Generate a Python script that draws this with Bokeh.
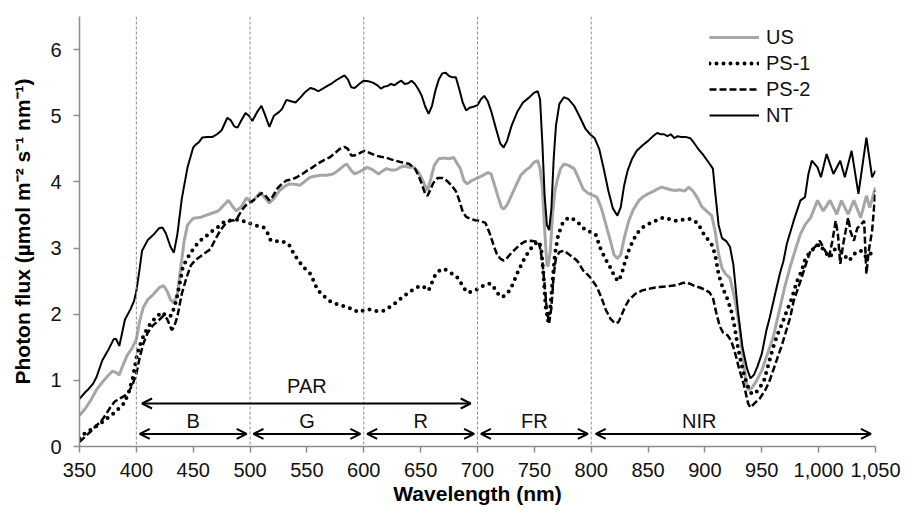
from bokeh.plotting import figure
from bokeh.models import Span, Arrow, OpenHead, Legend, LegendItem, NumeralTickFormatter, FixedTicker, ColumnDataSource
from bokeh.core.properties import value
from bokeh.embed import file_html
from bokeh.resources import INLINE

# ---------------- data ----------------
nt_nm = [350, 355, 358, 362, 365, 370, 375, 380, 382, 385, 390, 395, 398, 400, 403, 405, 410, 415, 420, 423, 426, 430, 433, 436, 440, 445, 450, 452, 455, 458, 462, 467, 471, 475, 480, 483, 486, 489, 492, 496, 499, 502, 506, 510, 513, 517, 521, 525, 528, 532, 536, 540, 544, 548, 553, 557, 560, 564, 568, 572, 576, 580, 583, 586, 589, 592, 596, 600, 604, 608, 612, 615, 618, 621, 624, 627, 630, 633, 636, 639, 642, 645, 648, 651, 654, 657, 660, 663, 666, 669, 672, 675, 678, 681, 684, 687, 690, 693, 697, 700, 703, 706, 709, 712, 716, 720, 723, 726, 730, 735, 740, 745, 750, 753, 755, 757, 759, 761, 763, 765, 767, 769, 772, 776, 780, 785, 790, 795, 799, 803, 807, 811, 815, 819, 823, 826, 829, 832, 836, 840, 845, 850, 855, 858, 861, 864, 867, 870, 873, 876, 879, 883, 887, 890, 894, 898, 903, 907, 909, 912, 915, 919, 922, 925, 929, 933, 937, 940, 943, 946, 950, 954, 957, 963, 966, 969, 972, 978, 984, 988, 991, 994, 999, 1002, 1007, 1013, 1019, 1023, 1029, 1035, 1042, 1047, 1050]
nt_val = [0.72, 0.82, 0.87, 0.95, 1.05, 1.30, 1.45, 1.62, 1.63, 1.52, 1.92, 2.08, 2.20, 2.35, 2.70, 2.96, 3.12, 3.20, 3.30, 3.31, 3.22, 3.02, 2.93, 3.20, 3.75, 4.22, 4.52, 4.56, 4.60, 4.67, 4.68, 4.68, 4.72, 4.78, 4.97, 4.93, 4.84, 4.82, 4.92, 5.04, 5.00, 4.92, 5.05, 5.15, 5.02, 4.83, 5.00, 5.05, 5.10, 5.24, 5.22, 5.20, 5.27, 5.35, 5.42, 5.40, 5.37, 5.41, 5.45, 5.49, 5.54, 5.58, 5.61, 5.55, 5.43, 5.42, 5.48, 5.53, 5.52, 5.50, 5.46, 5.41, 5.44, 5.45, 5.48, 5.46, 5.50, 5.53, 5.48, 5.49, 5.53, 5.48, 5.40, 5.30, 5.14, 5.03, 5.15, 5.38, 5.55, 5.64, 5.65, 5.60, 5.58, 5.58, 5.40, 5.20, 5.08, 5.12, 5.14, 5.16, 5.25, 5.30, 5.22, 5.07, 4.82, 4.58, 4.52, 4.62, 4.85, 5.06, 5.20, 5.27, 5.35, 5.37, 5.25, 4.60, 3.80, 3.35, 3.27, 3.60, 4.35, 4.85, 5.18, 5.28, 5.25, 5.15, 4.98, 4.80, 4.72, 4.66, 4.50, 4.20, 3.87, 3.60, 3.49, 3.62, 3.95, 4.17, 4.35, 4.47, 4.55, 4.62, 4.70, 4.74, 4.72, 4.72, 4.69, 4.72, 4.66, 4.69, 4.68, 4.68, 4.66, 4.60, 4.50, 4.42, 4.30, 4.20, 3.85, 3.35, 3.15, 3.10, 3.02, 2.75, 2.05, 1.50, 1.18, 1.03, 1.08, 1.20, 1.40, 1.75, 1.95, 2.40, 2.62, 2.80, 3.06, 3.41, 3.72, 3.77, 4.12, 4.32, 4.22, 4.07, 4.42, 4.12, 4.32, 4.07, 4.47, 3.82, 4.67, 4.07, 4.17]

us_nm = [350, 355, 360, 365, 370, 375, 379, 382, 385, 388, 392, 396, 400, 403, 406, 410, 415, 420, 424, 427, 430, 433, 436, 439, 442, 445, 450, 456, 462, 467, 472, 477, 481, 485, 488, 492, 497, 501, 505, 509, 513, 517, 521, 526, 531, 535, 540, 544, 549, 553, 558, 562, 567, 573, 578, 582, 585, 589, 592, 597, 603, 608, 613, 617, 620, 624, 628, 632, 635, 640, 644, 648, 651, 654, 656, 659, 662, 666, 671, 675, 679, 682, 685, 688, 691, 695, 700, 705, 709, 712, 715, 718, 721, 723, 726, 730, 734, 738, 742, 746, 750, 753, 755, 757, 759, 761, 762, 764, 766, 768, 770, 773, 776, 780, 785, 789, 793, 797, 801, 805, 809, 813, 817, 820, 823, 826, 829, 833, 837, 842, 846, 850, 855, 859, 862, 866, 870, 874, 878, 882, 886, 890, 894, 897, 902, 906, 909, 912, 915, 918, 922, 926, 930, 933, 936, 938, 941, 945, 950, 955, 960, 966, 970, 975, 980, 984, 988, 993, 999, 1004, 1010, 1016, 1020, 1026, 1031, 1037, 1042, 1045, 1050]
us_val = [0.47, 0.57, 0.70, 0.86, 0.97, 1.07, 1.14, 1.12, 1.08, 1.22, 1.38, 1.48, 1.62, 1.90, 2.10, 2.22, 2.30, 2.40, 2.43, 2.35, 2.22, 2.17, 2.30, 2.70, 3.10, 3.35, 3.45, 3.46, 3.50, 3.53, 3.56, 3.65, 3.72, 3.62, 3.56, 3.62, 3.76, 3.69, 3.76, 3.84, 3.76, 3.68, 3.75, 3.87, 3.94, 3.97, 3.96, 3.95, 4.02, 4.07, 4.09, 4.10, 4.10, 4.12, 4.18, 4.24, 4.27, 4.17, 4.12, 4.16, 4.22, 4.18, 4.12, 4.17, 4.20, 4.18, 4.18, 4.22, 4.24, 4.22, 4.22, 4.15, 4.05, 3.94, 3.87, 4.05, 4.25, 4.35, 4.36, 4.35, 4.37, 4.28, 4.20, 4.02, 3.97, 4.02, 4.06, 4.10, 4.14, 4.12, 3.95, 3.78, 3.62, 3.59, 3.65, 3.80, 3.95, 4.10, 4.17, 4.22, 4.30, 4.32, 4.20, 3.92, 3.30, 2.75, 2.72, 2.95, 3.50, 3.85, 4.02, 4.20, 4.27, 4.25, 4.20, 4.05, 3.89, 3.83, 3.80, 3.77, 3.60, 3.35, 3.10, 2.90, 2.84, 2.90, 3.15, 3.41, 3.58, 3.72, 3.78, 3.82, 3.86, 3.90, 3.92, 3.90, 3.88, 3.87, 3.88, 3.86, 3.92, 3.85, 3.74, 3.63, 3.55, 3.49, 3.25, 2.91, 2.70, 2.61, 2.55, 2.25, 1.85, 1.40, 1.00, 0.86, 0.88, 0.98, 1.15, 1.40, 1.65, 2.10, 2.40, 2.72, 3.00, 3.21, 3.35, 3.46, 3.72, 3.56, 3.72, 3.51, 3.72, 3.51, 3.72, 3.46, 3.79, 3.61, 3.92]

ps1_nm = [350, 353, 357, 362, 368, 374, 380, 385, 389, 393, 397, 401, 405, 410, 416, 422, 427, 431, 435, 438, 441, 445, 449, 453, 458, 463, 467, 472, 476, 480, 485, 490, 494, 498, 502, 507, 512, 515, 518, 522, 526, 530, 534, 538, 542, 547, 553, 556, 559, 563, 566, 570, 575, 581, 586, 590, 595, 600, 605, 610, 617, 621, 625, 630, 635, 640, 645, 650, 654, 657, 660, 663, 668, 672, 676, 681, 684, 687, 691, 695, 698, 702, 706, 710, 713, 717, 721, 724, 727, 731, 735, 740, 745, 750, 754, 756, 758, 760, 762, 764, 766, 768, 771, 775, 780, 785, 790, 795, 800, 804, 808, 812, 817, 821, 824, 827, 830, 834, 838, 842, 846, 850, 855, 860, 864, 868, 872, 876, 881, 886, 890, 894, 899, 903, 906, 909, 912, 916, 920, 923, 926, 929, 932, 935, 938, 941, 944, 948, 952, 956, 960, 964, 968, 972, 976, 981, 985, 988, 993, 997, 1001, 1005, 1010, 1014, 1019, 1023, 1027, 1032, 1037, 1042, 1046, 1050]
ps1_val = [0.12, 0.18, 0.22, 0.28, 0.34, 0.42, 0.50, 0.58, 0.65, 0.80, 1.05, 1.42, 1.62, 1.80, 1.93, 2.03, 1.97, 1.98, 2.20, 2.45, 2.72, 2.85, 2.96, 3.05, 3.14, 3.20, 3.26, 3.32, 3.38, 3.41, 3.42, 3.43, 3.41, 3.38, 3.36, 3.33, 3.31, 3.24, 3.12, 3.10, 3.11, 3.09, 3.06, 2.93, 2.82, 2.71, 2.61, 2.50, 2.38, 2.30, 2.26, 2.20, 2.16, 2.13, 2.10, 2.08, 2.03, 2.06, 2.07, 2.05, 2.05, 2.09, 2.13, 2.20, 2.27, 2.33, 2.39, 2.43, 2.40, 2.36, 2.48, 2.60, 2.68, 2.67, 2.63, 2.58, 2.52, 2.42, 2.33, 2.34, 2.36, 2.40, 2.44, 2.46, 2.45, 2.33, 2.26, 2.28, 2.33, 2.45, 2.62, 2.80, 2.95, 3.06, 3.10, 3.00, 2.60, 2.10, 1.90, 2.10, 2.50, 2.90, 3.20, 3.38, 3.46, 3.43, 3.36, 3.27, 3.24, 3.20, 3.00, 2.85, 2.70, 2.55, 2.50, 2.62, 2.81, 3.01, 3.15, 3.26, 3.32, 3.36, 3.40, 3.44, 3.46, 3.44, 3.42, 3.41, 3.43, 3.44, 3.42, 3.37, 3.21, 3.12, 3.05, 2.90, 2.60, 2.38, 2.22, 2.06, 1.82, 1.50, 1.25, 1.05, 0.90, 0.80, 0.80, 0.88, 1.00, 1.25, 1.50, 1.70, 1.86, 2.05, 2.22, 2.50, 2.65, 2.82, 2.96, 3.00, 3.06, 2.95, 2.86, 2.98, 2.96, 2.88, 2.81, 2.92, 2.96, 2.86, 2.92, 2.96]

ps2_nm = [350, 355, 360, 365, 369, 373, 377, 381, 385, 390, 394, 397, 400, 403, 406, 410, 414, 418, 421, 424, 427, 429, 431, 433, 436, 440, 444, 448, 452, 456, 460, 465, 470, 474, 478, 482, 486, 489, 493, 497, 500, 503, 506, 510, 513, 517, 520, 524, 528, 532, 537, 541, 546, 550, 555, 560, 565, 570, 575, 579, 583, 586, 589, 592, 595, 598, 601, 605, 610, 615, 619, 624, 628, 632, 636, 640, 645, 648, 651, 654, 656, 658, 661, 665, 669, 673, 677, 681, 684, 687, 690, 694, 698, 702, 707, 711, 714, 717, 720, 723, 726, 729, 733, 738, 742, 747, 751, 754, 757, 759, 761, 763, 765, 767, 769, 772, 776, 780, 784, 788, 793, 799, 805, 809, 813, 817, 821, 824, 827, 830, 833, 839, 845, 850, 855, 860, 866, 871, 876, 880, 884, 888, 892, 896, 900, 904, 907, 910, 913, 916, 920, 923, 926, 930, 934, 936, 938, 940, 944, 948, 953, 957, 961, 964, 968, 972, 975, 978, 981, 984, 987, 990, 993, 997, 1001, 1005, 1009, 1012, 1015, 1017, 1019, 1022, 1026, 1028, 1031, 1034, 1037, 1040, 1042, 1044, 1047, 1050]
ps2_val = [0.07, 0.15, 0.23, 0.32, 0.38, 0.48, 0.59, 0.68, 0.72, 0.77, 0.85, 0.95, 1.10, 1.35, 1.55, 1.72, 1.82, 1.88, 1.93, 1.98, 1.93, 1.85, 1.76, 1.80, 1.96, 2.31, 2.55, 2.74, 2.82, 2.87, 2.92, 2.98, 3.15, 3.27, 3.36, 3.41, 3.42, 3.46, 3.58, 3.66, 3.69, 3.72, 3.77, 3.83, 3.80, 3.72, 3.78, 3.90, 3.97, 4.02, 4.04, 4.07, 4.12, 4.17, 4.22, 4.28, 4.33, 4.37, 4.44, 4.50, 4.53, 4.50, 4.40, 4.40, 4.42, 4.45, 4.47, 4.44, 4.40, 4.38, 4.37, 4.34, 4.32, 4.30, 4.29, 4.27, 4.20, 4.10, 3.97, 3.82, 3.79, 3.86, 3.98, 4.06, 4.06, 4.02, 3.95, 3.86, 3.72, 3.55, 3.47, 3.44, 3.42, 3.41, 3.38, 3.21, 3.05, 2.91, 2.84, 2.81, 2.85, 2.91, 2.98, 3.06, 3.10, 3.11, 3.10, 3.09, 2.81, 2.45, 2.05, 1.87, 2.10, 2.60, 2.85, 2.94, 2.96, 2.91, 2.86, 2.80, 2.66, 2.56, 2.41, 2.25, 2.06, 1.93, 1.86, 1.88, 2.00, 2.12, 2.21, 2.31, 2.36, 2.38, 2.40, 2.41, 2.42, 2.43, 2.44, 2.47, 2.48, 2.45, 2.42, 2.40, 2.37, 2.33, 2.25, 2.02, 1.82, 1.72, 1.68, 1.60, 1.45, 1.18, 0.95, 0.80, 0.65, 0.59, 0.66, 0.72, 0.85, 1.00, 1.20, 1.35, 1.55, 1.78, 1.95, 2.20, 2.35, 2.50, 2.66, 2.82, 2.96, 3.02, 3.11, 2.98, 2.86, 3.10, 3.41, 3.20, 2.76, 3.10, 3.46, 3.25, 3.11, 3.30, 3.35, 3.41, 2.61, 2.95, 3.26, 3.87]

series_names = ["US", "PS-1", "PS-2", "NT"]

x_ticks = [350, 400, 450, 500, 550, 600, 650, 700, 750, 800, 850, 900, 950, 1000, 1050]
y_ticks = [0, 1, 2, 3, 4, 5, 6]
region_bounds = [400, 500, 600, 700, 800]

band_labels = ["B", "G", "R", "FR", "NIR"]
band_start = [400, 500, 600, 700, 800]
band_end = [500, 600, 700, 800, 1050]
band_label_x = [450, 550, 650, 750, 895]
par_label = "PAR"
par_start = 400
par_end = 700

# ---------------- figure ----------------
FONT = "Liberation Sans"

p = figure(width=907, height=512, x_range=(350, 1050), y_range=(0, 6.5),
           output_backend="svg", toolbar_location=None,
           min_border_left=79, min_border_right=32, min_border_top=16, min_border_bottom=66)
p.outline_line_color = None
p.xgrid.visible = False
p.ygrid.visible = False
p.background_fill_color = "white"
p.border_fill_color = "white"

for ax in (p.xaxis[0], p.yaxis[0]):
    ax.axis_line_color = "#8c8c8c"
    ax.axis_line_width = 1.5
    ax.major_tick_line_color = "#8c8c8c"
    ax.major_tick_line_width = 1.5
    ax.major_tick_out = 6
    ax.major_tick_in = 0
    ax.minor_tick_line_color = None
    ax.major_label_text_font = FONT
    ax.major_label_text_font_size = "20px"
    ax.major_label_text_color = "#111111"
    ax.axis_label_text_font = FONT
    ax.axis_label_text_font_size = "21px"
    ax.axis_label_text_font_style = "bold"
    ax.axis_label_text_color = "#000000"

p.xaxis.ticker = FixedTicker(ticks=x_ticks)
p.yaxis.ticker = FixedTicker(ticks=y_ticks)
p.xaxis.formatter = NumeralTickFormatter(format="0,0")
p.xaxis.axis_label = "Wavelength (nm)"
p.yaxis.axis_label = "Photon flux (µmol m⁻² s⁻¹ nm⁻¹)"
p.xaxis.major_label_standoff = 10
p.xaxis.axis_label_standoff = 2
p.yaxis.major_label_standoff = 12
p.yaxis.axis_label_standoff = 13

for b in region_bounds:
    p.add_layout(Span(location=b, dimension="height", line_color="#8c8c8c",
                      line_width=1, line_dash="3 2"))

r_us = p.line(us_nm, us_val, line_color="#a6a6a6", line_width=3)
r_ps1 = p.line(ps1_nm, ps1_val, line_color="#000000", line_width=4,
               line_dash="0 7", line_cap="round")
r_ps2 = p.line(ps2_nm, ps2_val, line_color="#000000", line_width=2.5, line_dash="7 3")
r_nt = p.line(nt_nm, nt_val, line_color="#000000", line_width=2)

# band arrows
band_y = 0.19
band_label_y = 0.39
par_y = 0.65
par_label_y = 0.92
for s, e in zip(band_start, band_end):
    inset = 3 if e < 1050 else 4
    p.add_layout(Arrow(x_start=s + inset, x_end=e - inset, y_start=band_y, y_end=band_y,
                       line_width=2, line_color="black",
                       start=OpenHead(size=10, line_width=2, line_color="black"),
                       end=OpenHead(size=10, line_width=2, line_color="black")))
p.add_layout(Arrow(x_start=par_start + 5, x_end=par_end - 6, y_start=par_y, y_end=par_y,
                   line_width=2, line_color="black",
                   start=OpenHead(size=10, line_width=2, line_color="black"),
                   end=OpenHead(size=10, line_width=2, line_color="black")))

lab_src = ColumnDataSource(dict(x=band_label_x + [(par_start + par_end) / 2],
                                y=[band_label_y] * len(band_labels) + [par_label_y],
                                t=band_labels + [par_label]))
p.text(x="x", y="y", text="t", source=lab_src, text_align="center", text_baseline="middle",
       text_font=value(FONT), text_font_size="20px", text_color="#111111")

legend = Legend(items=[LegendItem(label=n, renderers=[r]) for n, r in
                       zip(series_names, [r_us, r_ps1, r_ps2, r_nt])],
                location=(630, 318), orientation="vertical",
                glyph_width=50, glyph_height=26, label_height=26, spacing=0,
                padding=0, margin=0, label_standoff=7,
                label_text_font=FONT, label_text_font_size="20px", label_text_color="#111111",
                background_fill_alpha=0, border_line_color=None)
p.add_layout(legend)

open("out.html", "w").write(file_html(p, INLINE))
